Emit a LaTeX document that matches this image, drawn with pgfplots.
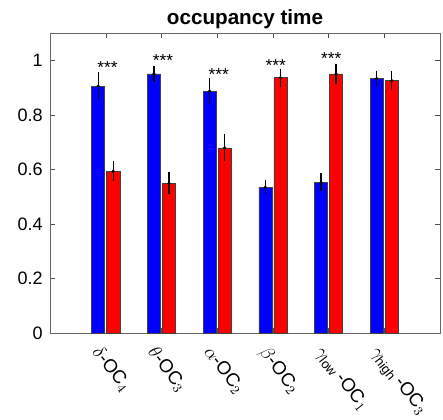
\documentclass[border=0pt]{standalone}
\usepackage{pgfplots}
\pgfplotsset{compat=1.18}
\usepackage{fontspec}
\setmainfont{Liberation Sans}
\begin{document}
\begin{tikzpicture}
% fixed frame around the axis (axis box spans 0..292.5pt x 0..225pt)
\useasboundingbox (-37.5pt,-64.5pt) rectangle (294.75pt,249.75pt);
\begin{axis}[
  at={(0,0)}, anchor=south west,
  scale only axis,
  width=292.5pt, height=225pt,
  xmin=0, xmax=7, ymin=0, ymax=1.1,
  xtick={1,2,3,4,5,6},
  xticklabels={{$\delta$-OC$_4$},{$\theta$-OC$_3$},{$\alpha$-OC$_2$},{$\beta$-OC$_2$},{$\gamma_{\mathrm{low}}$\,-OC$_1$},{$\gamma_{\mathrm{high}}$\,-OC$_3$}},
  x tick label style={xshift=-2pt, yshift=-3.5pt, rotate=-52, anchor=north west, font=\fontsize{14}{16}\selectfont},
  ytick={0,0.2,0.4,0.6,0.8,1},
  yticklabels={0,0.2,0.4,0.6,0.8,1},
  y tick label style={font=\fontsize{13.5}{15}\selectfont, xshift=-2pt},
  tick align=inside,
  major tick length=4pt,
  axis line style={draw=black!60},
  tick style={black!70},
  title={\bfseries occupancy time},
  title style={font=\fontsize{15.5}{17}\selectfont, yshift=-6pt},
]
% first condition (blue)
\addplot[ybar, bar width=0.235, bar shift=0, fill=blue, draw=black!75,
  mark=*, mark size=1pt, mark options={black, fill=black},
  error bars/.cd, y dir=both, y explicit, error mark=none,
  error bar style={black, line width=0.9pt}]
  coordinates {
    (0.865,0.905) +- (0,0.052)
    (1.865,0.950) +- (0,0.030)
    (2.865,0.887) +- (0,0.047)
    (3.865,0.534) +- (0,0.026)
    (4.865,0.552) +- (0,0.033)
    (5.865,0.933) +- (0,0.029)
  };
% second condition (red)
\addplot[ybar, bar width=0.235, bar shift=0, fill=red, draw=black!75,
  mark=*, mark size=1pt, mark options={black, fill=black},
  error bars/.cd, y dir=both, y explicit, error mark=none,
  error bar style={black, line width=0.9pt}]
  coordinates {
    (1.135,0.593) +- (0,0.037)
    (2.135,0.549) +- (0,0.041)
    (3.135,0.679) +- (0,0.050)
    (4.135,0.936) +- (0,0.033)
    (5.135,0.950) +- (0,0.036)
    (6.135,0.925) +- (0,0.035)
  };
% significance markers
\addplot[only marks, mark=none, nodes near coords, point meta=explicit symbolic,
  nodes near coords style={anchor=center, font=\fontsize{13}{14}\selectfont}]
  coordinates {
    (1.03,0.975) [***]
    (2.03,0.998) [***]
    (3.03,0.948) [***]
    (4.05,0.982) [***]
    (5.05,1.005) [***]
  };
\end{axis}
\end{tikzpicture}
\end{document}
